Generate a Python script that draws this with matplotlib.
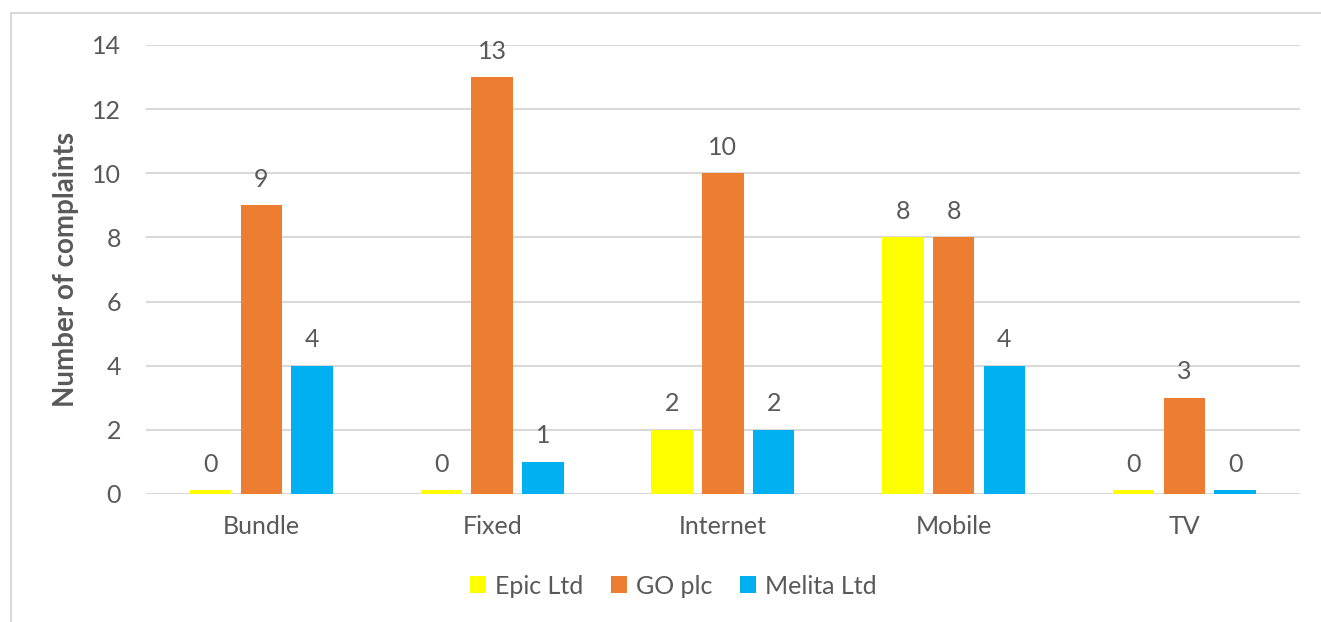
import numpy as np
import matplotlib.pyplot as plt
from matplotlib import rcParams
from matplotlib.patches import Rectangle

rcParams['font.family'] = ['Lato', 'DejaVu Sans']

# data
categories = ['Bundle', 'Fixed', 'Internet', 'Mobile', 'TV']
series = ['Epic Ltd', 'GO plc', 'Melita Ltd']
epic = [0, 0, 2, 8, 0]
go = [9, 13, 10, 8, 3]
melita = [4, 1, 2, 4, 0]
colors = ['#FFFF00', '#ED7D31', '#00B0F0']
text_c = '#595959'

fig = plt.figure(figsize=(13.21, 6.22), dpi=100)
ax = fig.add_axes([0.1105, 0.2058, 0.8735, 0.7219])

# outer chart frame
fig.patches.append(Rectangle((11 / 1321, -0.1), 1.2, (622 - 13) / 622 + 0.1,
                             transform=fig.transFigure, fill=False,
                             edgecolor='#D9D9D9', linewidth=1.5))

x = np.arange(len(categories))
w = 0.18
step = 0.22
for i, (vals, name) in enumerate(zip([epic, go, melita], series)):
    pos = x + (i - 1) * step
    heights = np.maximum(vals, 0.12)  # zero bars drawn as thin stubs like the original
    ax.bar(pos, heights, width=w, color=colors[i], label=name, zorder=3)
    for p, v in zip(pos, vals):
        ax.text(p, max(v, 0.12) + 0.45, str(v), ha='center', va='bottom',
                fontsize=18, color=text_c)

ax.set_xlim(-0.5, len(categories) - 0.5)
ax.set_ylim(0, 14)
ax.set_yticks(range(0, 15, 2))
ax.set_xticks(x)
ax.set_xticklabels(categories)
ax.tick_params(axis='both', length=0, labelsize=18, colors=text_c)
ax.tick_params(axis='x', pad=15)
ax.tick_params(axis='y', pad=18)
ax.grid(axis='y', color='#D9D9D9', linewidth=1.5, zorder=0)
for s in ax.spines.values():
    s.set_visible(False)
ax.set_ylabel('Number of complaints', fontsize=20, fontweight='bold',
              color=text_c, labelpad=9)

ax.legend(loc='center', bbox_to_anchor=(0.457, -0.205), ncol=3, frameon=False,
          fontsize=18, labelcolor=text_c, handlelength=0.65, handleheight=0.65,
          handletextpad=0.35, columnspacing=1.1)

fig.savefig('out.png', dpi=100)
